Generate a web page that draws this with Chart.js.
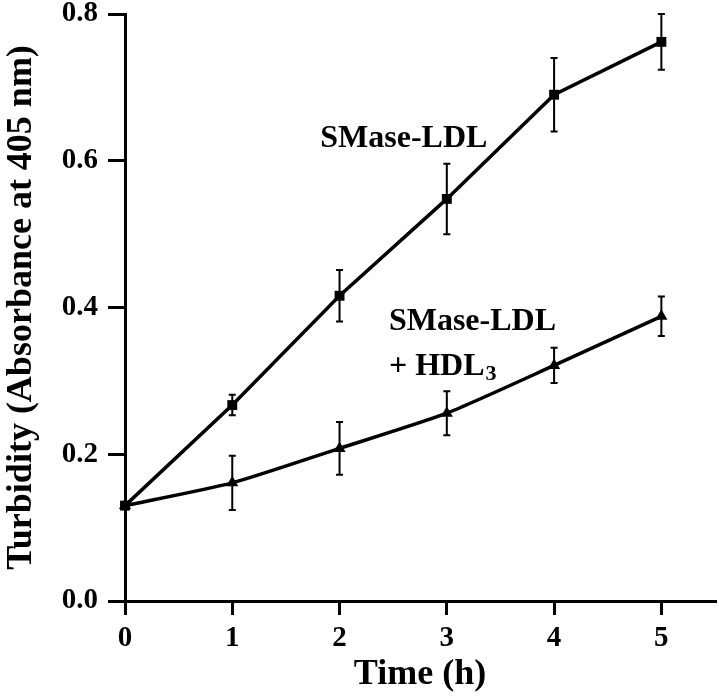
<!DOCTYPE html>
<html>
<head>
<meta charset="utf-8">
<script src="https://cdn.jsdelivr.net/npm/chart.js@4/dist/chart.umd.min.js"></script>
<style>
  body { margin: 0; background: #fff; }
  canvas { display: block; }
</style>
</head>
<body>
<canvas id="grafico" width="719" height="700"></canvas>
<script>
// datos
const hours = [0, 1, 2, 3, 4, 5]
const smaseLdl = [0.13, 0.267, 0.416, 0.548, 0.690, 0.762]
const smaseLdlErr = [0, 0.014, 0.035, 0.048, 0.050, 0.038]
const smaseHdl = [0.13, 0.161, 0.208, 0.256, 0.321, 0.388]
const smaseHdlErr = [0, 0.037, 0.036, 0.030, 0.024, 0.027]
const xTicks = [0, 1, 2, 3, 4, 5]
const yTicks = [0, 0.2, 0.4, 0.6, 0.8]

const serif = '"Liberation Serif", "Times New Roman", serif'

// textos dentro del grafico (posicion en unidades de datos)
const notas = [
  { text: 'SMase-LDL', x: 1.82, y: 0.619, size: 32 },
  { text: 'SMase-LDL', x: 2.46, y: 0.369, size: 32 },
  { text: '+ HDL', sub: '3', x: 2.46, y: 0.308, size: 32 }
]

const toPoints = (ys) => hours.map((h, i) => ({ x: h, y: ys[i] }))

const errorBars = {
  id: 'errorBars',
  afterDatasetsDraw(chart) {
    const ctx = chart.ctx
    const xs = chart.scales.x
    const ys = chart.scales.y
    ctx.save()
    ctx.strokeStyle = '#000'
    ctx.lineWidth = 2
    chart.data.datasets.forEach((ds) => {
      ds.data.forEach((p, i) => {
        const e = ds.errors[i]
        if (!e) return
        const px = xs.getPixelForValue(p.x)
        const top = ys.getPixelForValue(p.y + e)
        const bot = ys.getPixelForValue(p.y - e)
        ctx.beginPath()
        ctx.moveTo(px, top); ctx.lineTo(px, bot)
        ctx.moveTo(px - 3.5, top); ctx.lineTo(px + 3.5, top)
        ctx.moveTo(px - 3.5, bot); ctx.lineTo(px + 3.5, bot)
        ctx.stroke()
      })
    })
    ctx.restore()
  }
}

const textos = {
  id: 'textos',
  afterDraw(chart) {
    const ctx = chart.ctx
    const xs = chart.scales.x
    const ys = chart.scales.y
    ctx.save()
    ctx.fillStyle = '#000'
    ctx.textBaseline = 'alphabetic'
    ctx.textAlign = 'left'
    notas.forEach((n) => {
      const px = xs.getPixelForValue(n.x)
      const py = ys.getPixelForValue(n.y)
      ctx.font = `bold ${n.size}px ${serif}`
      ctx.fillText(n.text, px, py)
      if (n.sub) {
        const w = ctx.measureText(n.text).width
        ctx.font = `bold ${Math.round(n.size * 0.7)}px ${serif}`
        ctx.fillText(n.sub, px + w + 1, py + 5)
      }
    })
    ctx.restore()
  }
}

const axisGrid = (len) => ({
  display: true,
  drawOnChartArea: false,
  drawTicks: true,
  tickLength: len,
  lineWidth: 3,
  color: '#000'
})

const config = {
  type: 'line',
  data: {
    datasets: [
      {
        label: 'SMase-LDL',
        data: toPoints(smaseLdl),
        errors: smaseLdlErr,
        borderColor: '#000',
        backgroundColor: '#000',
        borderWidth: 3.5,
        pointStyle: 'rect',
        pointRadius: 7,
        pointBorderWidth: 0,
        tension: 0,
        clip: false
      },
      {
        label: 'SMase-LDL + HDL3',
        data: toPoints(smaseHdl),
        errors: smaseHdlErr,
        borderColor: '#000',
        backgroundColor: '#000',
        borderWidth: 3.5,
        pointStyle: 'triangle',
        pointRadius: 7,
        pointBorderWidth: 0,
        tension: 0.2,
        clip: false
      }
    ]
  },
  options: {
    responsive: false,
    animation: false,
    devicePixelRatio: 1,
    layout: { autoPadding: false, padding: { top: 14, right: 4, bottom: 0, left: 0 } },
    plugins: { legend: { display: false }, tooltip: { enabled: false } },
    scales: {
      x: {
        type: 'linear',
        min: 0,
        max: 5.5,
        grid: axisGrid(14),
        border: { display: true, width: 3, color: '#000' },
        afterBuildTicks: (axis) => { axis.ticks = xTicks.map((v) => ({ value: v })) },
        afterFit: (axis) => {
          axis.height = 99
          axis.paddingLeft = 0
          axis.paddingRight = 0
        },
        ticks: {
          color: '#000',
          padding: 6,
          maxRotation: 0,
          font: { family: serif, size: 29, weight: 'bold' },
          callback: (v) => String(v)
        },
        title: {
          display: true,
          text: 'Time (h)',
          color: '#000',
          padding: { top: 0, bottom: 4 },
          font: { family: serif, size: 36, weight: 'bold' }
        }
      },
      y: {
        type: 'linear',
        min: 0,
        max: 0.8,
        grid: axisGrid(17),
        border: { display: true, width: 3, color: '#000' },
        afterBuildTicks: (axis) => { axis.ticks = yTicks.map((v) => ({ value: v })) },
        afterFit: (axis) => {
          axis.width = 125
          axis.paddingTop = 0
          axis.paddingBottom = 0
        },
        ticks: {
          color: '#000',
          padding: 10,
          font: { family: serif, size: 29, weight: 'bold' },
          callback: (v) => v.toFixed(1)
        },
        title: {
          display: true,
          text: 'Turbidity (Absorbance at 405 nm)',
          color: '#000',
          padding: { top: 0, bottom: 0 },
          font: { family: serif, size: 36, weight: 'bold' }
        }
      }
    }
  },
  plugins: [errorBars, textos]
}

const chartDOM = document.getElementById('grafico')
const chart = new Chart(chartDOM, config)
</script>
</body>
</html>
